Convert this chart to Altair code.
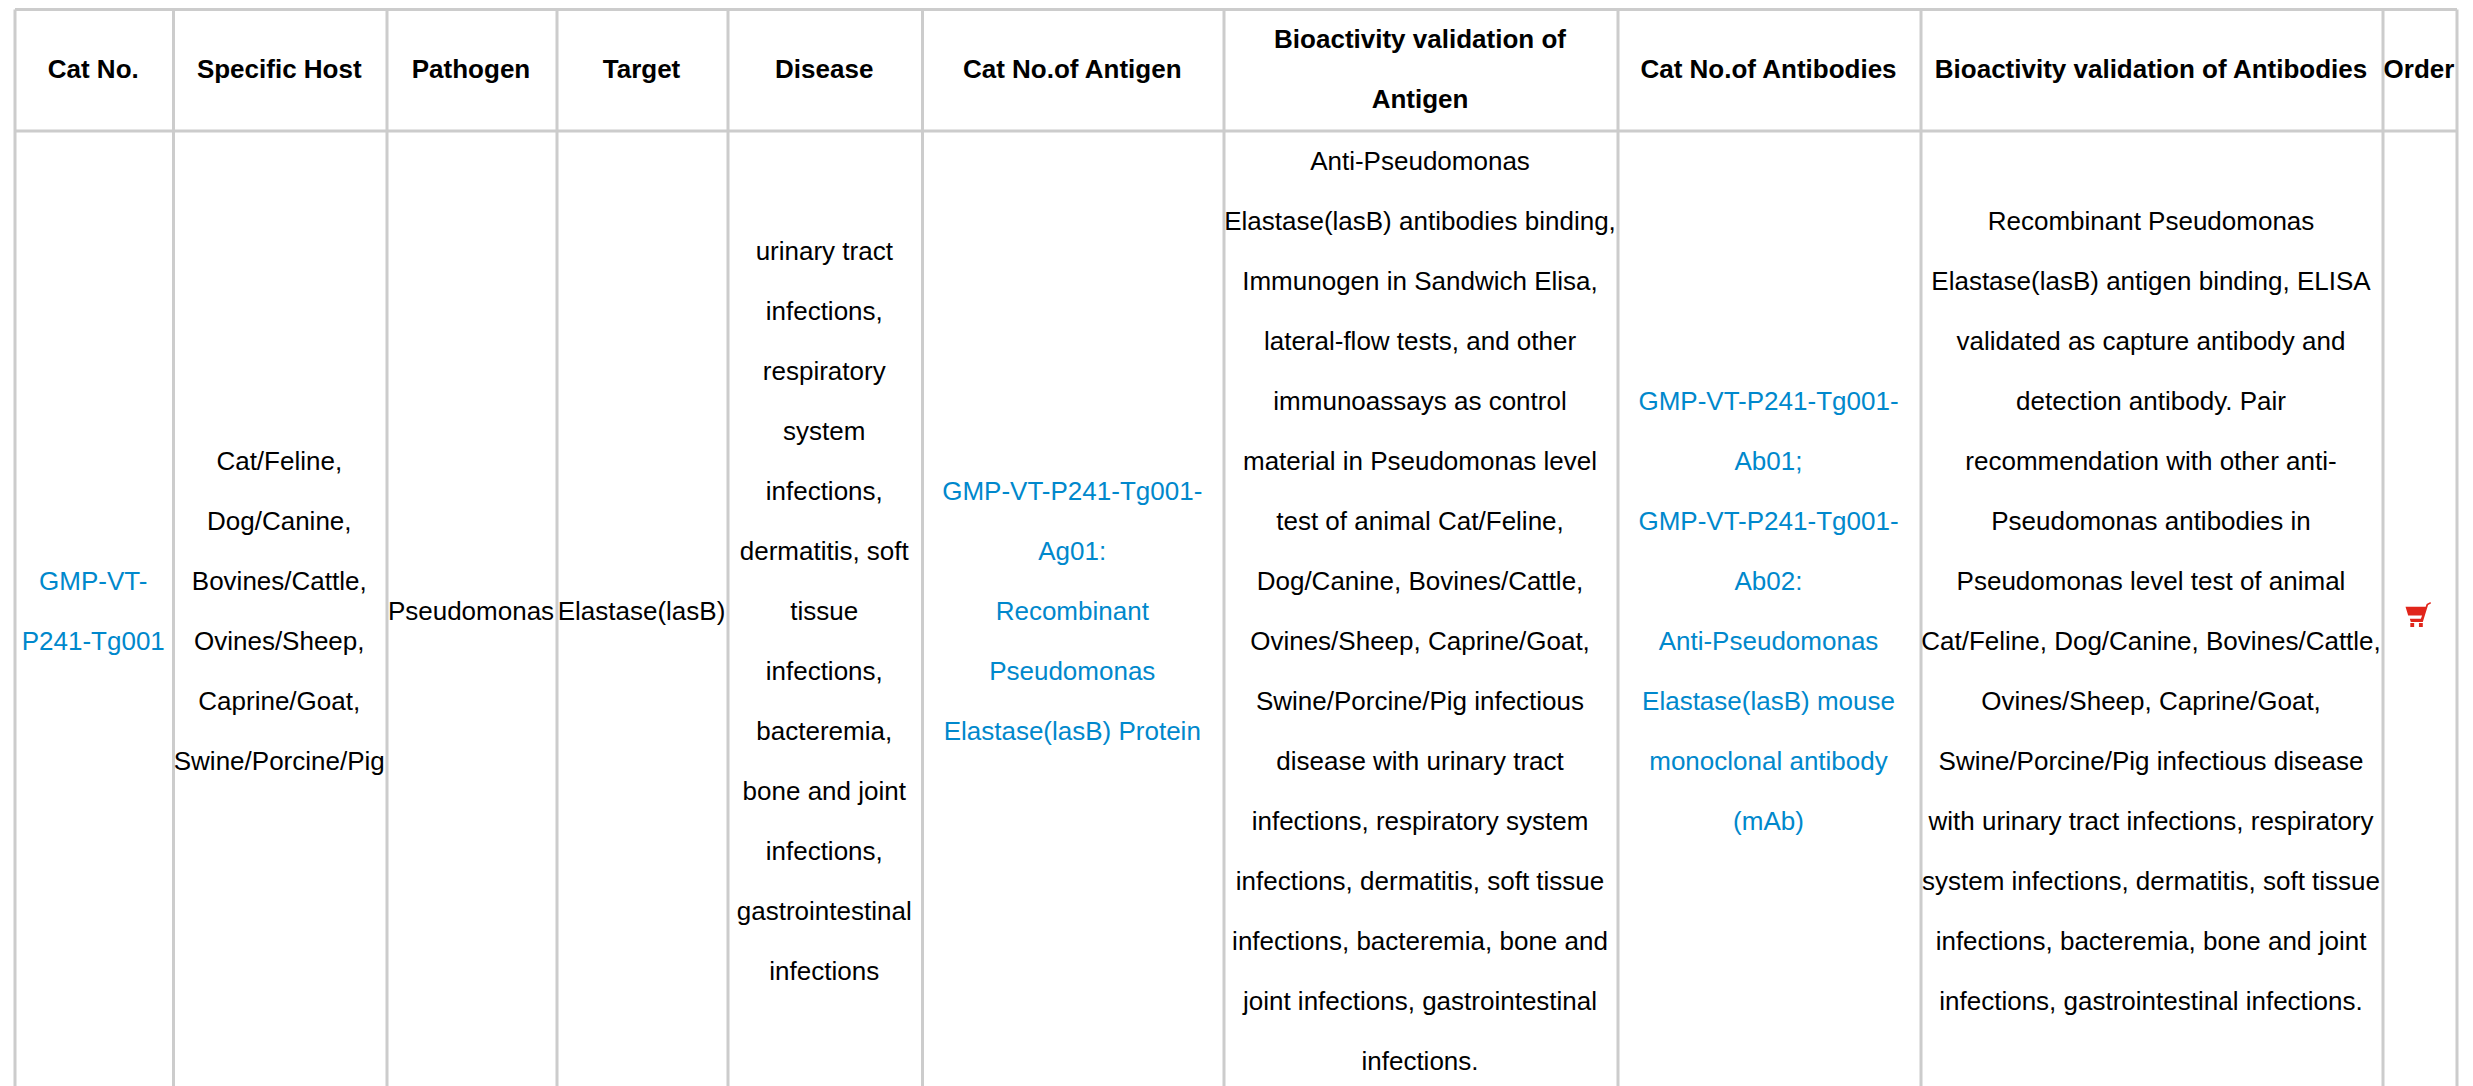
import altair as alt
import pandas as pd

# table structure
column_edges = [15, 173.5, 387, 557, 728, 922.5, 1224, 1618, 1921, 2383, 2457]
table_top, header_bottom, table_bottom = 9.5, 131, 1086
row_pitch = 60
body_center = 611.7
header_center = 69.7

headers = [
    ["Cat No."], ["Specific Host"], ["Pathogen"], ["Target"], ["Disease"],
    ["Cat No.of Antigen"], ["Bioactivity validation of", "Antigen"],
    ["Cat No.of Antibodies"], ["Bioactivity validation of Antibodies"], ["Order"],
]
cat_no = ["GMP-VT-", "P241-Tg001"]
host = ["Cat/Feline,", "Dog/Canine,", "Bovines/Cattle,", "Ovines/Sheep,", "Caprine/Goat,", "Swine/Porcine/Pig"]
pathogen = ["Pseudomonas"]
target = ["Elastase(lasB)"]
disease = ["urinary tract", "infections,", "respiratory", "system", "infections,", "dermatitis, soft",
           "tissue", "infections,", "bacteremia,", "bone and joint", "infections,", "gastrointestinal", "infections"]
antigen = ["GMP-VT-P241-Tg001-", "Ag01:", "Recombinant", "Pseudomonas", "Elastase(lasB) Protein"]
antigen_bio = ["Anti-Pseudomonas", "Elastase(lasB) antibodies binding,", "Immunogen in Sandwich Elisa,",
               "lateral-flow tests, and other", "immunoassays as control", "material in Pseudomonas level",
               "test of animal Cat/Feline,", "Dog/Canine, Bovines/Cattle,", "Ovines/Sheep, Caprine/Goat,",
               "Swine/Porcine/Pig infectious", "disease with urinary tract", "infections, respiratory system",
               "infections, dermatitis, soft tissue", "infections, bacteremia, bone and",
               "joint infections, gastrointestinal", "infections."]
antibodies = ["GMP-VT-P241-Tg001-", "Ab01;", "GMP-VT-P241-Tg001-", "Ab02:", "Anti-Pseudomonas",
              "Elastase(lasB) mouse", "monoclonal antibody", "(mAb)"]
antibody_bio = ["Recombinant Pseudomonas", "Elastase(lasB) antigen binding, ELISA",
                "validated as capture antibody and", "detection antibody. Pair",
                "recommendation with other anti-", "Pseudomonas antibodies in",
                "Pseudomonas level test of animal", "Cat/Feline, Dog/Canine, Bovines/Cattle,",
                "Ovines/Sheep, Caprine/Goat,", "Swine/Porcine/Pig infectious disease",
                "with urinary tract infections, respiratory", "system infections, dermatitis, soft tissue",
                "infections, bacteremia, bone and joint", "infections, gastrointestinal infections."]
body = [(cat_no, "link"), (host, "plain"), (pathogen, "plain"), (target, "plain"), (disease, "plain"),
        (antigen, "link"), (antigen_bio, "plain"), (antibodies, "link"), (antibody_bio, "plain")]

centers = [(a + b) / 2 - 1 for a, b in zip(column_edges[:-1], column_edges[1:])]

rows_h, rows_b = [], []
for c, lines in zip(centers, headers):
    for i, t in enumerate(lines):
        rows_h.append({"x": c, "y": header_center + row_pitch * (i - (len(lines) - 1) / 2), "t": t})
for c, (lines, kind) in zip(centers, body):
    for i, t in enumerate(lines):
        rows_b.append({"x": c, "y": body_center + row_pitch * (i - (len(lines) - 1) / 2), "t": t, "kind": kind})

W, H = 2457, 1078
xs = alt.Scale(domain=[8, 8 + W], range=[0, W], nice=False, zero=False)
ys = alt.Scale(domain=[8, 8 + H], range=[0, H], nice=False, zero=False)
X = alt.X("x:Q", scale=xs, axis=None)
Y = alt.Y("y:Q", scale=ys, axis=None)

v = pd.DataFrame({"x": column_edges, "y": table_top, "y2": table_bottom})
h = pd.DataFrame({"y": [table_top, header_bottom], "x": column_edges[0], "x2": column_edges[-1]})
FONT = "Liberation Sans"
GREY = "#cccccc"

vrules = alt.Chart(v).mark_rule(color=GREY, strokeWidth=3).encode(X, Y, y2="y2:Q")
hrules = alt.Chart(h).mark_rule(color=GREY, strokeWidth=3).encode(X, Y, x2="x2:Q")
head = alt.Chart(pd.DataFrame(rows_h)).mark_text(font=FONT, fontSize=26, fontWeight="bold", color="#000000",
                                                  align="center", baseline="middle").encode(X, Y, text="t:N")
cells = alt.Chart(pd.DataFrame(rows_b)).mark_text(font=FONT, fontSize=26, align="center", baseline="middle").encode(
    X, Y, text="t:N",
    color=alt.Color("kind:N", scale=alt.Scale(domain=["plain", "link"], range=["#000000", "#0088cc"]), legend=None))

cart_path = ("M-0.52,-0.3L0.32,-0.3L0.36,-0.42L0.52,-0.5L0.54,-0.44L0.42,-0.38L0.2,0.33L-0.3,0.33L-0.34,0.2"
             "L0.12,0.2L0.17,0.06L-0.41,0.06Z"
             "M-0.32,0.38L-0.16,0.38L-0.16,0.54L-0.32,0.54Z M0.04,0.38L0.2,0.38L0.2,0.54L0.04,0.54Z")
cart = alt.Chart(pd.DataFrame({"x": [2418], "y": [614]})).mark_point(
    shape=cart_path, filled=True, color="#e1251b", size=2300, opacity=1).encode(X, Y)

chart = alt.layer(vrules, hrules, head, cells, cart).properties(
    width=W, height=H, padding=0, autosize=alt.AutoSizeParams(type="none"),
).configure_view(stroke=None)
chart.save("out.html", embed_options={"renderer": "svg", "actions": False})
